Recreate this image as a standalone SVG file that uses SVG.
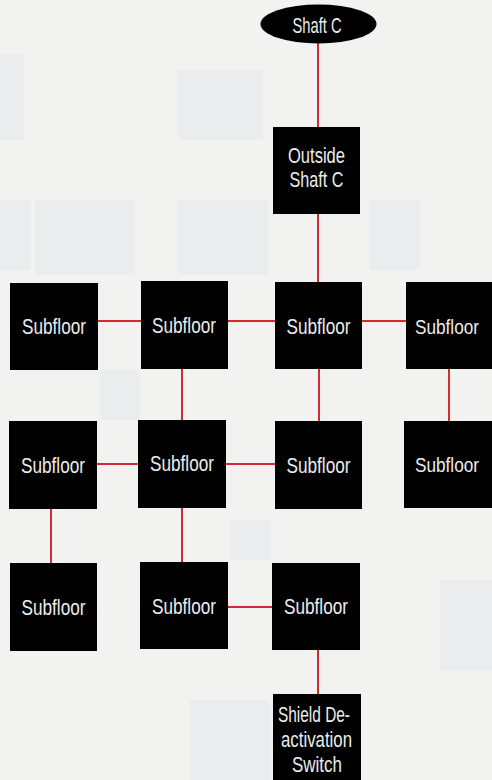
<svg xmlns="http://www.w3.org/2000/svg" width="492" height="780" viewBox="0 0 492 780">
<style>
.bg{fill:#f2f2f1}
.patch{fill:#ebecee}
.node{fill:#000}
.lbl{font-family:"Liberation Sans",Arial,sans-serif;font-size:22px;fill:#ececec;text-anchor:middle}
.edge{stroke:#d42a34;stroke-width:2;fill:none}
</style>
<rect class="bg" x="0" y="0" width="492" height="780"/>
<g id="background">
<rect class="patch" x="0" y="55" width="24" height="85"/>
<rect class="patch" x="178" y="70" width="85" height="70"/>
<rect class="patch" x="0" y="200" width="30" height="70"/>
<rect class="patch" x="35" y="200" width="100" height="75"/>
<rect class="patch" x="178" y="200" width="90" height="75"/>
<rect class="patch" x="370" y="200" width="50" height="70"/>
<rect class="patch" x="100" y="370" width="40" height="50"/>
<rect class="patch" x="230" y="520" width="40" height="40"/>
<rect class="patch" x="440" y="580" width="52" height="90"/>
<rect class="patch" x="190" y="700" width="80" height="80"/>
</g>
<g id="connectors">
<line class="edge" x1="318" y1="43" x2="318" y2="127"/>
<line class="edge" x1="318" y1="214" x2="318" y2="282"/>
<line class="edge" x1="98" y1="321" x2="141" y2="321"/>
<line class="edge" x1="228" y1="321" x2="275" y2="321"/>
<line class="edge" x1="362" y1="321" x2="406" y2="321"/>
<line class="edge" x1="182" y1="369" x2="182" y2="420"/>
<line class="edge" x1="319" y1="369" x2="319" y2="421"/>
<line class="edge" x1="449" y1="369" x2="449" y2="421"/>
<line class="edge" x1="97" y1="464" x2="138" y2="464"/>
<line class="edge" x1="226" y1="464" x2="275" y2="464"/>
<line class="edge" x1="51" y1="509" x2="51" y2="563"/>
<line class="edge" x1="182" y1="508" x2="182" y2="562"/>
<line class="edge" x1="228" y1="607" x2="272" y2="607"/>
<line class="edge" x1="318" y1="650" x2="318" y2="694"/>
</g>
<g id="shaft-c">
<ellipse class="node" cx="318.5" cy="24" rx="58" ry="19.5"/>
<text class="lbl" x="317" y="33" textLength="49" lengthAdjust="spacingAndGlyphs">Shaft C</text>
</g>
<g id="outside-shaft-c">
<rect class="node" x="273" y="127" width="87" height="87"/>
<text class="lbl" x="316.5" y="163" textLength="57" lengthAdjust="spacingAndGlyphs">Outside</text>
<text class="lbl" x="316.5" y="187" textLength="54" lengthAdjust="spacingAndGlyphs">Shaft C</text>
</g>
<g id="subfloor-r1c1">
<rect class="node" x="10" y="283" width="88" height="87"/>
<text class="lbl" x="54" y="334" textLength="64" lengthAdjust="spacingAndGlyphs">Subfloor</text>
</g>
<g id="subfloor-r1c2">
<rect class="node" x="141" y="281" width="87" height="88"/>
<text class="lbl" x="184" y="333" textLength="64" lengthAdjust="spacingAndGlyphs">Subfloor</text>
</g>
<g id="subfloor-r1c3">
<rect class="node" x="275" y="282" width="87" height="87"/>
<text class="lbl" x="318.5" y="334" textLength="64" lengthAdjust="spacingAndGlyphs">Subfloor</text>
</g>
<g id="subfloor-r1c4">
<rect class="node" x="406" y="282" width="86" height="87"/>
<text class="lbl" x="447" y="334" textLength="64" lengthAdjust="spacingAndGlyphs" style="font-size:21px">Subfloor</text>
</g>
<g id="subfloor-r2c1">
<rect class="node" x="9" y="421" width="88" height="88"/>
<text class="lbl" x="53" y="473" textLength="64" lengthAdjust="spacingAndGlyphs">Subfloor</text>
</g>
<g id="subfloor-r2c2">
<rect class="node" x="138" y="420" width="88" height="88"/>
<text class="lbl" x="182" y="471" textLength="64" lengthAdjust="spacingAndGlyphs">Subfloor</text>
</g>
<g id="subfloor-r2c3">
<rect class="node" x="275" y="421" width="87" height="88"/>
<text class="lbl" x="318.5" y="473" textLength="64" lengthAdjust="spacingAndGlyphs">Subfloor</text>
</g>
<g id="subfloor-r2c4">
<rect class="node" x="404" y="421" width="88" height="87"/>
<text class="lbl" x="447" y="472" textLength="64" lengthAdjust="spacingAndGlyphs" style="font-size:21px">Subfloor</text>
</g>
<g id="subfloor-r3c1">
<rect class="node" x="10" y="563" width="87" height="88"/>
<text class="lbl" x="53.5" y="615" textLength="64" lengthAdjust="spacingAndGlyphs">Subfloor</text>
</g>
<g id="subfloor-r3c2">
<rect class="node" x="140" y="562" width="88" height="87"/>
<text class="lbl" x="184" y="614" textLength="64" lengthAdjust="spacingAndGlyphs">Subfloor</text>
</g>
<g id="subfloor-r3c3">
<rect class="node" x="272" y="563" width="88" height="87"/>
<text class="lbl" x="316" y="614" textLength="64" lengthAdjust="spacingAndGlyphs">Subfloor</text>
</g>
<g id="shield-deactivation-switch">
<rect class="node" x="273" y="694" width="88" height="86"/>
<text class="lbl" x="314" y="722" textLength="72" lengthAdjust="spacingAndGlyphs">Shield De-</text>
<text class="lbl" x="316.5" y="747" textLength="71" lengthAdjust="spacingAndGlyphs">activation</text>
<text class="lbl" x="317" y="772" textLength="50" lengthAdjust="spacingAndGlyphs">Switch</text>
</g>
</svg>
